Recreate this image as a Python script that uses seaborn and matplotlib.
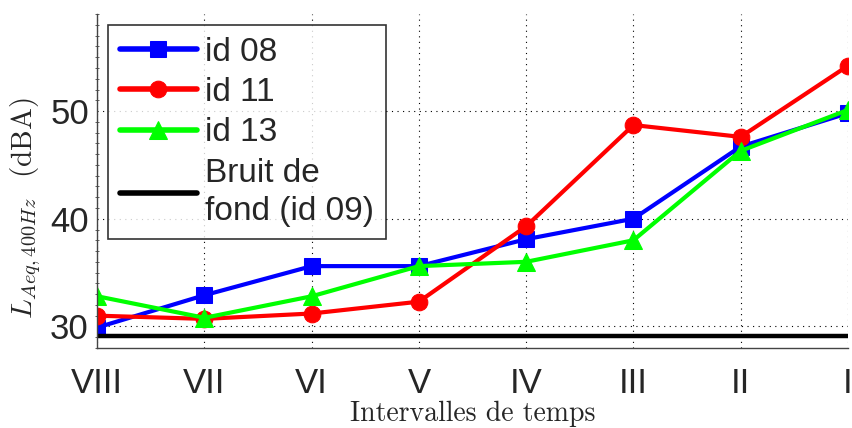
import pandas as pd
import matplotlib
matplotlib.use('Agg')
import matplotlib.pyplot as plt
from matplotlib.ticker import MultipleLocator
import seaborn as sns

# %% Data
intervalles = ['VIII', 'VII', 'VI', 'V', 'IV', 'III', 'II', 'I']
id08 = [29.9, 32.9, 35.6, 35.6, 38.1, 40.0, 46.7, 49.8]
id11 = [31.0, 30.7, 31.2, 32.3, 39.3, 48.7, 47.6, 54.2]
id13 = [32.8, 30.8, 32.8, 35.6, 36.0, 38.0, 46.3, 50.1]
bruit_fond = 29.1

series = [('id 08', id08, 'blue', 's', 11),
          ('id 11', id11, 'red', 'o', 12),
          ('id 13', id13, 'lime', '^', 13)]

# %% Plot
sns.set_style('white')
plt.rcParams['font.family'] = ['Liberation Sans', 'DejaVu Sans']
plt.rcParams['mathtext.fontset'] = 'cm'

fig, ax = plt.subplots(figsize=(8.53, 4.28), dpi=100)

for name, vals, col, mk, ms in series:
    df = pd.DataFrame({'x': intervalles, 'y': vals})
    sns.lineplot(data=df, x='x', y='y', ax=ax, color=col, marker=mk,
                 markersize=ms, markeredgecolor=col, linewidth=3,
                 label=name, sort=False)

ax.axhline(bruit_fond, color='black', linewidth=3.2, label='Bruit de\nfond (id 09)')

ax.set_xlim(0, len(intervalles) - 1)
ax.set_ylim(28, 59)
ax.set_yticks([30, 40, 50])
ax.yaxis.set_minor_locator(MultipleLocator(1))
ax.grid(True, linestyle=(0, (1, 4)), color='black', linewidth=0.8)

for s in ['top', 'right']:
    ax.spines[s].set_visible(False)
for s in ['left', 'bottom']:
    ax.spines[s].set_color('#444444')
    ax.spines[s].set_linewidth(1)

ax.tick_params(axis='both', which='major', labelsize=25, direction='in', length=5,
               color='#444444', pad=14)
ax.tick_params(axis='y', which='major', direction='inout', length=6, pad=3)
ax.tick_params(axis='y', which='minor', direction='inout', length=3, left=True, color='#444444')

ax.set_xlabel('Intervalles de temps', fontsize=20, family='cmr10', labelpad=0)
ax.set_ylabel(r'$L_{Aeq,400Hz}$  (dBA)', fontsize=21, family='cmr10')
ax.yaxis.set_label_coords(-0.072, 0.42)

leg = ax.legend(loc='upper left', bbox_to_anchor=(0.0146, 0.967), borderaxespad=0,
                fontsize=24, frameon=True, fancybox=False, edgecolor='black',
                handlelength=2.3, borderpad=0.35, labelspacing=0.28, handletextpad=0.25)
leg.get_frame().set_linewidth(1.2)
for h in leg.legend_handles:
    h.set_linewidth(4)
for t in leg.get_texts():
    t.set_linespacing(1.3)

plt.subplots_adjust(left=0.114, right=0.994, top=0.967, bottom=0.187)
plt.savefig('out.png', dpi=100)
plt.close()
